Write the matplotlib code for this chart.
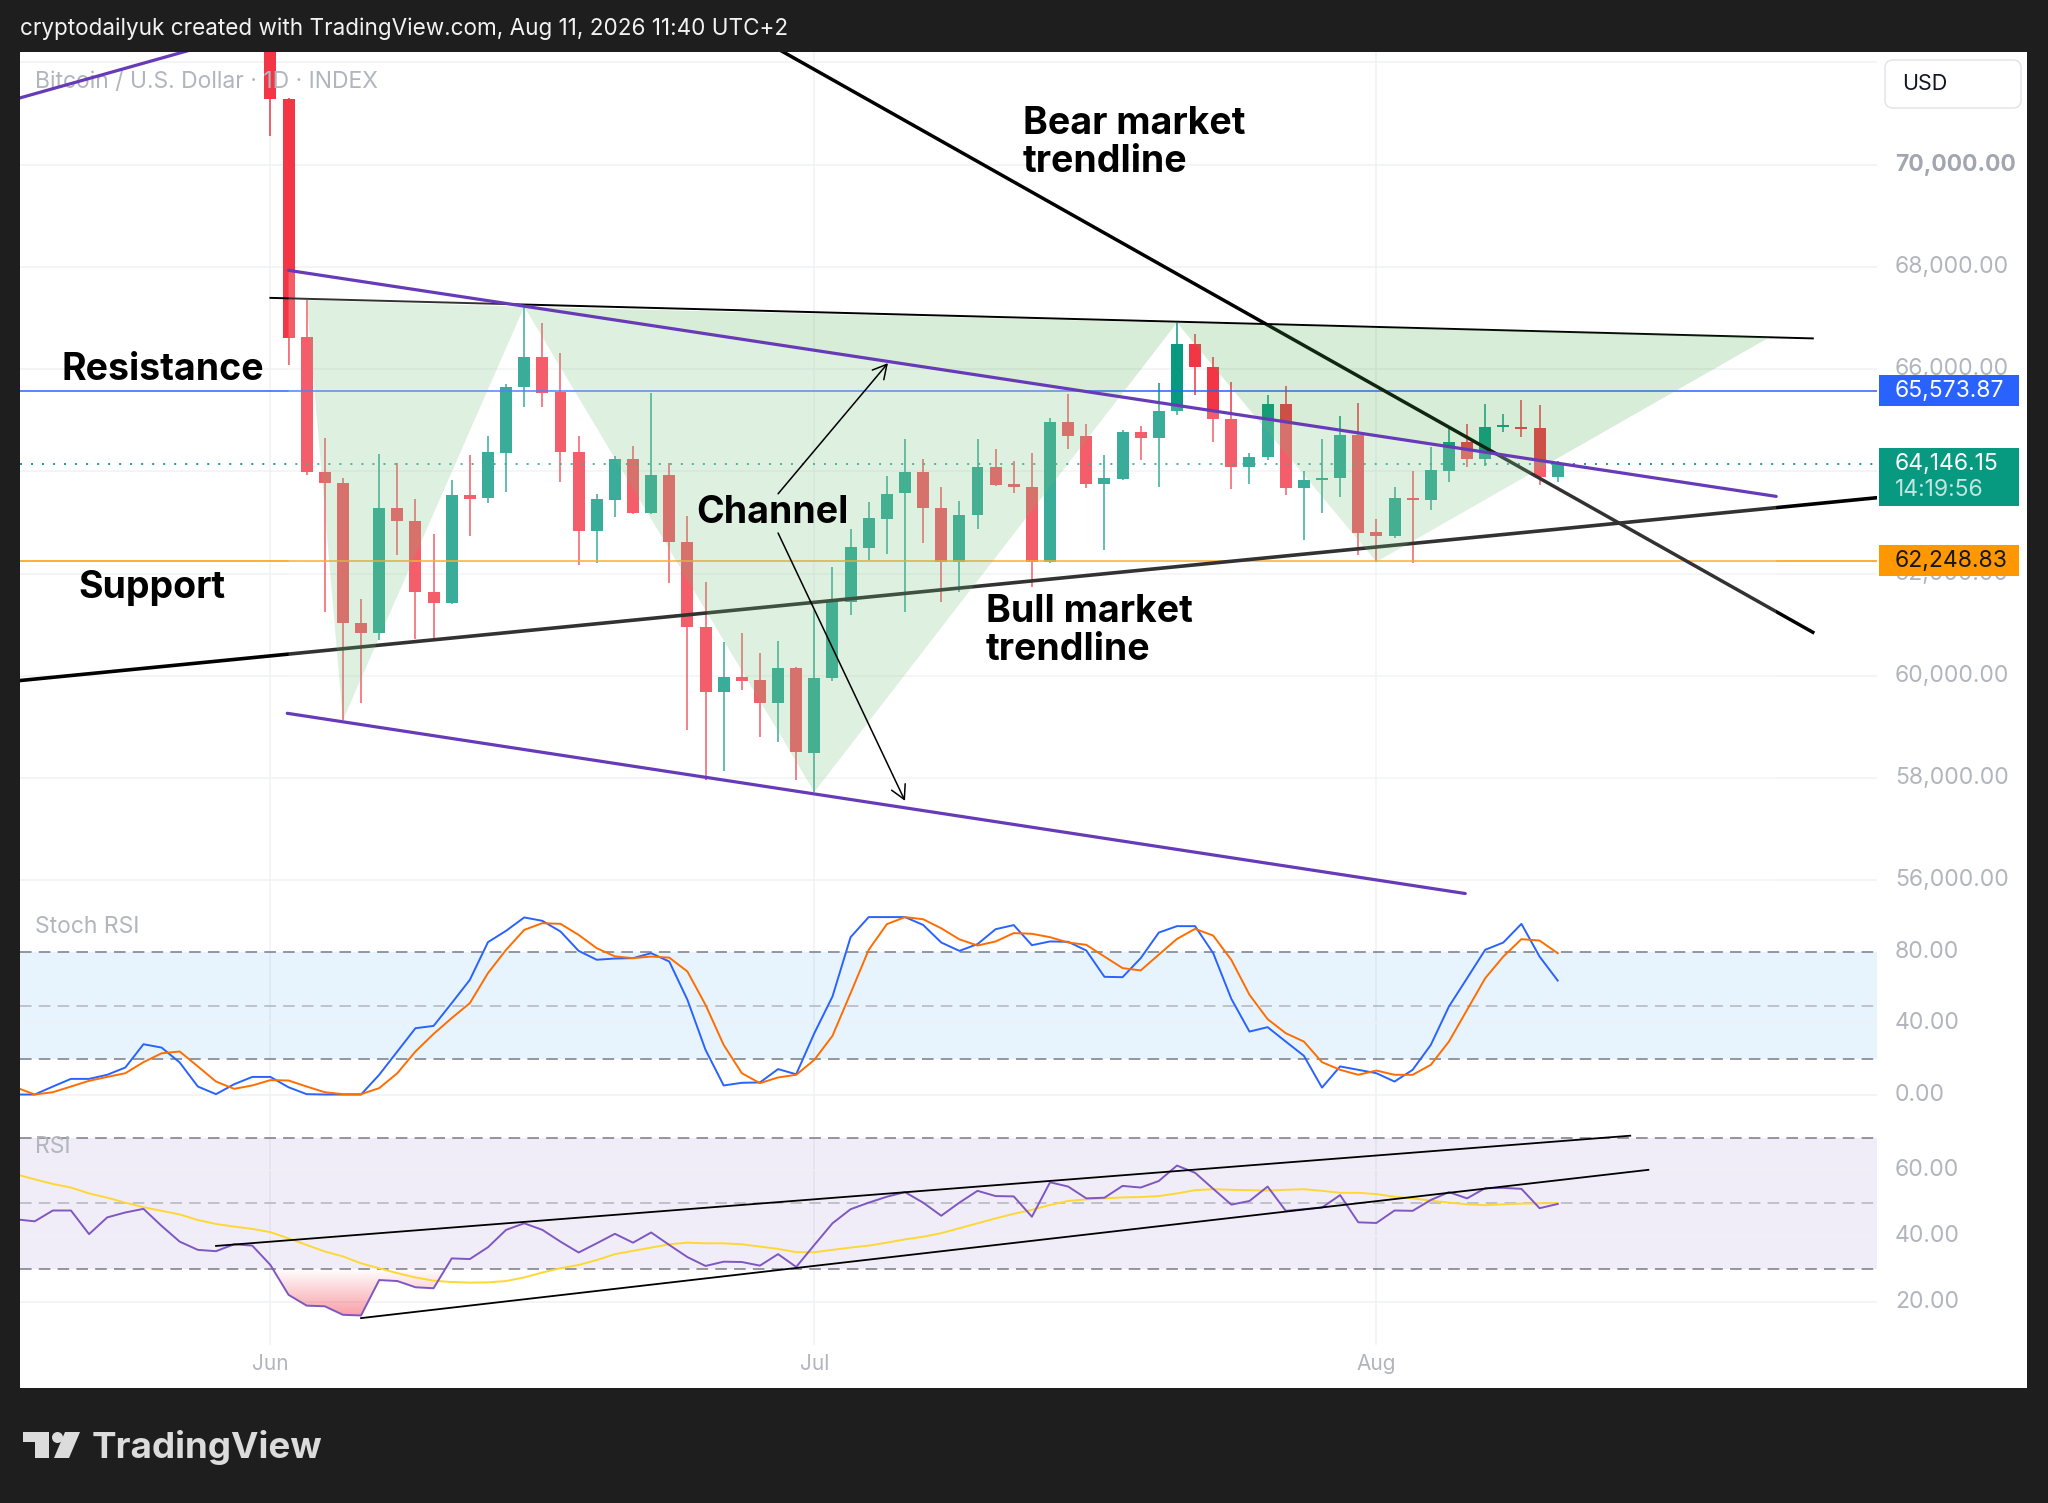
import numpy as np
import pandas as pd
import matplotlib
matplotlib.use("Agg")
import matplotlib.pyplot as plt
from matplotlib.patches import Polygon, Rectangle, FancyBboxPatch, Circle
from matplotlib.colors import LinearSegmentedColormap
from matplotlib.path import Path

plt.rcParams['font.family'] = ['Inter', 'DejaVu Sans']

# daily candles, Jun 1 - Aug 11 2026
dates = pd.date_range("2026-06-01", "2026-08-11", freq="D")
opens = [73900, 71280, 66632, 63990, 63775, 61023, 60839, 63286, 63031, 61642,
         61426, 63535, 63481, 64362, 65642, 66229, 65556, 64382, 62835, 63437,
         64243, 63188, 63926, 62620, 60957, 59686, 59980, 59914, 59458, 60143,
         58490, 59947, 61446, 62503, 63058, 63567, 63978, 63286, 62229, 63143,
         64088, 63743, 63697, 62229, 64969, 64689, 63750, 63841, 64761, 64656,
         65184, 66491, 66033, 65016, 64076, 64272, 65315, 63665, 63828, 63861,
         64709, 62804, 62732, 63469, 63436, 64010, 64577, 64233, 64870, 64871,
         64839, 63880]
highs = [74400, 71300, 67350, 64644, 63861, 61493, 64337, 64166, 63456, 62771,
         63828, 64317, 64689, 65706, 67219, 66894, 66307, 64689, 63548, 64290,
         64493, 65524, 64166, 63123, 61837, 60663, 60827, 60436, 60683, 60180,
         61284, 62131, 62881, 63404, 63907, 64624, 64233, 63684, 63424, 64624,
         64428, 64200, 64350, 65047, 65505, 64924, 64317, 64807, 64891, 65720,
         66906, 66685, 66241, 65740, 64362, 65491, 65667, 64010, 64624, 65080,
         65329, 63058, 63697, 64010, 64467, 64871, 64918, 65315, 65119, 65393,
         65296, 64200]
lows = [70560, 66078, 63930, 61250, 59131, 59458, 60697, 62360, 60710, 60710,
        61400, 62732, 63383, 63599, 65262, 65250, 63795, 62164, 62210, 63109,
        63170, 63170, 61806, 58947, 57969, 58137, 59731, 58804, 58706, 57969,
        57727, 59900, 61186, 62262, 62380, 61250, 62589, 61446, 61642, 62863,
        63720, 63567, 61740, 62200, 64428, 63665, 62459, 63830, 64219, 63697,
        65100, 65491, 64565, 63646, 63750, 64219, 63535, 62654, 63188, 63501,
        62360, 62229, 62700, 62197, 63241, 63795, 64088, 64102, 64773, 64663,
        63730, 63783]
closes = [71280, 66613, 63978, 63775, 61023, 60839, 63286, 63031, 61642, 61426,
          63535, 63450, 64370, 65654, 66229, 65536, 64370, 62835, 63456, 64243,
          63188, 63926, 62608, 60957, 59673, 59980, 59900, 59458, 60143, 58510,
          59947, 61479, 62522, 63077, 63555, 63978, 63273, 62229, 63143, 64088,
          63730, 63697, 62229, 64969, 64689, 63750, 63861, 64761, 64644, 65184,
          66491, 66033, 65016, 64076, 64272, 65315, 63665, 63828, 63861, 64709,
          62784, 62732, 63481, 63436, 64024, 64577, 64233, 64859, 64900, 64832,
          63880, 64146.15]

# indicators, May 18 - Aug 11 2026
ind_dates = pd.date_range("2026-05-18", "2026-08-11", freq="D")
stoch_k = [0, 0, 4.5, 8.8, 8.8, 11.1, 15.2, 28.3, 26.4, 18.0,
           4.5, 0.2, 5.8, 9.9,
           9.9, 4.1, 0.2, 0, 0, 0, 11.1, 24.2, 37.3, 38.6,
           51.4, 64.5, 85.7, 92.1, 99.6, 97.7, 91.7, 80.8, 75.8, 76.5,
           76.7, 79.5, 74.8, 53.3, 25.1, 5.1, 6.6, 6.8, 14.3, 11.4,
           34.5, 55.1, 88.5, 99.8, 99.8, 99.8, 95.4, 85.5, 80.8, 84.6,
           93.0, 95.3, 84.0, 86.1, 85.9, 81.0, 66.2, 66.0, 76.7, 91.1,
           94.7, 94.7, 79.5, 53.8, 35.4, 37.9, 29.8, 21.8, 3.9, 15.8,
           13.9, 12.0, 7.3, 13.9, 27.9, 49.5, 65.4, 81.4, 85.5, 96.0,
           77.6, 64.1]
stoch_d = [3.9, 0, 1.3, 4.5, 7.7, 9.9, 12.0, 18.2, 23.2, 24.2,
           15.8, 7.3, 3.2, 5.1,
           8.1, 7.9, 4.5, 1.3, 0.2, 0.2, 3.6, 12.0, 24.2, 34.1,
           43.0, 51.4, 68.3, 81.4, 92.6, 96.4, 96.0, 89.8, 82.3, 77.7,
           76.7, 77.6, 77.0, 69.2, 50.4, 27.9, 12.0, 6.4, 9.6, 11.1,
           19.5, 33.0, 57.0, 81.4, 95.8, 99.8, 98.6, 93.5, 87.3, 83.8,
           86.1, 90.8, 90.4, 88.5, 85.5, 84.2, 77.6, 71.1, 69.8, 78.7,
           87.5, 93.2, 89.4, 75.7, 56.1, 42.4, 34.5, 29.8, 18.2, 13.9,
           11.1, 13.5, 11.1, 11.1, 16.7, 29.8, 47.6, 65.4, 77.6, 87.4,
           86.6, 79.5]
rsi = [45.1, 44.5, 47.8, 47.8, 40.6, 45.7, 47.2, 48.3, 43.1, 38.3,
       35.8, 35.4, 37.5, 37.1,
       31.2, 22.1, 18.8, 18.6, 16.0, 15.8, 26.6, 26.3, 24.4, 24.1,
       33.2, 33.0, 36.6, 41.9, 43.9, 41.9, 38.3, 35.0, 37.8, 40.7,
       38.0, 41.1, 37.3, 33.6, 30.9, 32.2, 32.1, 31.0, 34.5, 30.6,
       37.3, 43.9, 48.2, 50.2, 52.0, 53.4, 50.2, 46.2, 50.2, 53.8,
       52.2, 52.1, 45.9, 56.4, 55.1, 51.5, 51.7, 55.3, 54.8, 56.8,
       61.5, 59.3, 54.4, 49.6, 50.7, 55.1, 47.7, 48.2, 48.7, 52.5,
       44.2, 44.0, 47.8, 47.7, 51.0, 53.4, 51.5, 54.6, 54.7, 54.4,
       48.5, 49.8]
rsi_ma = [58.8, 57.3, 55.9, 54.8, 53.0, 51.7, 50.2, 48.8, 47.7, 46.6,
          44.9, 43.7, 42.9, 42.2,
          41.2, 39.3, 37.3, 35.3, 33.8, 31.7, 30.2, 28.7, 27.4, 26.4,
          26.0, 25.8, 25.9, 26.3, 27.4, 28.9, 30.2, 31.2, 32.7, 34.5,
          35.5, 36.5, 37.5, 38.0, 37.8, 37.8, 37.5, 36.8, 36.1, 35.1,
          35.1, 35.8, 36.5, 37.1, 38.0, 39.0, 39.8, 40.9, 42.4, 43.9,
          45.4, 46.8, 48.0, 49.5, 50.7, 51.2, 51.5, 51.8, 51.9, 52.2,
          53.0, 54.0, 54.3, 54.1, 54.0, 53.9, 54.1, 54.3, 53.8, 53.2,
          53.2, 52.8, 52.0, 51.5, 50.8, 50.2, 49.7, 49.4, 49.7, 49.9,
          50.0, 50.1]

resistance = 65573.87
support = 62248.83
last_price = 64146.15
countdown = "14:19:56"

price_ticks = [56000, 58000, 60000, 62000, 64000, 66000, 68000, 70000, 72000]
price_labels = [56000, 58000, 60000, 62000, 66000, 68000, 70000]
stoch_ticks = [80, 40, 0]
rsi_ticks = [60, 40, 20]
month_dates = pd.to_datetime(["2026-06-01", "2026-07-01", "2026-08-01"])
month_labels = ["Jun", "Jul", "Aug"]

# drawings: x in days from Jun 1, y in price
hs_days = [2, 4, 14, 30, 50, 61, 82.7]
hs_prices = [67350, 59131, 67219, 57727, 66906, 62229, 66626]
neck_days, neck_prices = [0, 85.07], [67393, 66600]
bear_days, bear_prices = [20, 85.07], [73860, 60851]
bull_days, bull_prices = [-13.83, 88.6], [59906, 63483]
chan_up_days, chan_up_prices = [1.0, 83.05], [67931, 63509]
chan_lo_days, chan_lo_prices = [0.93, 65.9], [59266, 55740]
old_days, old_prices = [-14, -3], [71286, 72383]
arrows = [((28.0, 63560), (34.06, 66116)), ((28.0, 62793), (35.0, 57553))]
rsi_up_days, rsi_up_vals = [-3.0, 75.0], [37.0, 70.6]
rsi_lo_days, rsi_lo_vals = [5.0, 76.0], [15.0, 60.2]

# ---------- layout in pixels ----------
W, H = 2048, 1503
PL, PR = 20, 1877
XMIN, XMAX = -13.81, 88.61


def frame(l, t, r, b):
    return [l / W, 1 - b / H, (r - l) / W, (b - t) / H]


def axx(px):
    return (px - PL) / (PR - PL)


fig = plt.figure(figsize=(W / 100, H / 100), dpi=100, facecolor='#1e1e1e')

chrome = fig.add_axes([0, 0, 1, 1], zorder=-10)
chrome.set_xlim(0, W)
chrome.set_ylim(H, 0)
chrome.axis('off')
chrome.add_patch(Rectangle((20, 52), 2007, 1336, fc='white', ec='none'))
chrome.text(20, 29, "cryptodailyuk created with TradingView.com, Aug 11, 2026 11:40 UTC+2",
            color='#f2f2f2', fontsize=16.2, va='center', ha='left')
# TradingView logo
logo_c = '#dcdcdc'
chrome.add_patch(Polygon([(23, 1432), (49, 1432), (49, 1458), (34.5, 1458), (34.5, 1442), (23, 1442)],
                         fc=logo_c, ec='none'))
chrome.add_patch(Circle((57.5, 1437.5), 5.5, fc=logo_c, ec='none'))
chrome.add_patch(Polygon([(65, 1432), (80, 1432), (69, 1458), (54, 1458)], fc=logo_c, ec='none'))
chrome.text(92, 1458, "TradingView", color=logo_c, fontsize=26.5, fontweight='bold',
            ha='left', va='baseline')
# currency box
chrome.add_patch(FancyBboxPatch((1885, 60), 136, 48, boxstyle="round,pad=0,rounding_size=8",
                                fc='white', ec='#e0e3eb', lw=1))
chrome.text(1902, 84, "USD", fontsize=15.5, color='#131722', va='center', ha='left')


def pane(t, b):
    a = fig.add_axes(frame(PL, t, PR, b))
    a.set_facecolor('none')
    for s in a.spines.values():
        s.set_visible(False)
    a.set_xticks([])
    a.set_yticks([])
    a.set_xlim(XMIN, XMAX)
    return a


ax = pane(52, 897)
ax_st = pane(897, 1118)
ax_rsi = pane(1118, 1345)
MAIN_LO, MAIN_HI = 55672, 72203
ax.set_ylim(MAIN_LO, MAIN_HI)
ax_st.set_ylim(-13.2, 111.1)
ax_rsi.set_ylim(6.8, 76.0)

x = np.asarray((dates - dates[0]).days, dtype=float)
ind_x = np.asarray((ind_dates - dates[0]).days, dtype=float)
month_x = np.asarray((month_dates - dates[0]).days, dtype=float)

grid_c = '#eff1f4'
for a in (ax, ax_st, ax_rsi):
    for m in month_x:
        a.axvline(m, color=grid_c, lw=1.1, zorder=0)
for p in price_ticks:
    ax.axhline(p, color=grid_c, lw=1.1, zorder=0)

# ---------- candles ----------
o = np.array(opens, dtype=float)
h = np.array(highs, dtype=float)
l = np.array(lows, dtype=float)
c = np.array(closes, dtype=float)
up = c >= o
cols = np.where(up, '#089981', '#f23645')
ax.vlines(x, l, h, colors=cols, lw=1.1, zorder=2)
ax.bar(x, np.maximum(np.abs(c - o), 35), bottom=np.minimum(o, c), width=0.66,
       color=cols, linewidth=0, zorder=2.1)

# ---------- levels and trendlines ----------
ax.axhline(resistance, color='#2962ff', lw=1.1, zorder=3)
ax.axhline(support, color='#ff9800', lw=1.1, zorder=3)
ax.axhline(last_price, color='#089981', lw=1.3, ls=(0, (1.1, 5)), zorder=3)
ax.plot(bull_days, bull_prices, color='black', lw=2.6, zorder=3.2)
ax.plot(bear_days, bear_prices, color='black', lw=2.5, zorder=3.2)
ax.plot(neck_days, neck_prices, color='black', lw=1.4, zorder=3.2)

# head & shoulders style triangles
for i in (0, 2, 4):
    tri = list(zip(hs_days[i:i + 3], hs_prices[i:i + 3]))
    ax.add_patch(Polygon(tri, closed=True, fc=(0.298, 0.686, 0.314, 0.22), ec='none', zorder=4))

# channel background (very light)
slope_lo = (chan_lo_prices[1] - chan_lo_prices[0]) / (chan_lo_days[1] - chan_lo_days[0])
lo_at = [chan_lo_prices[0] + slope_lo * (d - chan_lo_days[0]) for d in chan_up_days]
ax.add_patch(Polygon([(chan_up_days[0], chan_up_prices[0]), (chan_up_days[1], chan_up_prices[1]),
                      (chan_up_days[1], lo_at[1]), (chan_up_days[0], lo_at[0])],
                     closed=True, fc=(1, 1, 1, 0.2), ec='none', zorder=5))

purple = '#673ab7'
ax.plot(chan_up_days, chan_up_prices, color=purple, lw=2.3, zorder=6, solid_capstyle='round')
ax.plot(chan_lo_days, chan_lo_prices, color=purple, lw=2.3, zorder=6, solid_capstyle='round')
ax.plot(old_days, old_prices, color=purple, lw=2.3, zorder=6)

for start, end in arrows:
    ax.annotate('', xy=end, xytext=start, zorder=7,
                arrowprops=dict(arrowstyle='->,head_length=0.55,head_width=0.3', color='black',
                                lw=1.1, shrinkA=0, shrinkB=0, mutation_scale=18))

# ---------- annotation texts ----------
tkw = dict(fontsize=27, fontweight='bold', color='black', ha='left', va='baseline', zorder=8)
ax.text(-11.52, 65786, "Resistance", **tkw)
ax.text(-10.61, 61531, "Support", **tkw)
ax.text(23.47, 62983, "Channel", **tkw)
ax.text(39.47, 61058, "Bull market", **tkw)
ax.text(39.47, 60318, "trendline", **tkw)
ax.text(41.49, 70599, "Bear market", **tkw)
ax.text(41.49, 69859, "trendline", **tkw)

ax.text(axx(34.8), 1 - (81.7 - 52) / 845, "Bitcoin / U.S. Dollar \u00b7 1D \u00b7 INDEX",
        transform=ax.transAxes, fontsize=16.5, color='#b2b5be', ha='left', va='center', zorder=5.5)

# ---------- price scale ----------
lab_c = '#b2b5be'


def scale_label(a, v, s, **kw):
    kw.setdefault('color', lab_c)
    a.text(axx(1895), v, s, transform=a.get_yaxis_transform(), ha='left', va='center',
           fontsize=16.5, clip_on=False, zorder=10, **kw)


for p in price_labels:
    if p == 70000:
        scale_label(ax, p, f"{p:,.2f}", fontweight='bold', color='#a3a6af')
    else:
        scale_label(ax, p, f"{p:,.2f}")

px_unit = (MAIN_HI - MAIN_LO) / 845.0
tag_x0, tag_w = axx(1879), axx(2019) - axx(1879)


def price_tag(v, text, face, tcol, above=15.5, below=15.5):
    ax.add_patch(Rectangle((tag_x0, v - below * px_unit), tag_w, (above + below) * px_unit,
                           transform=ax.get_yaxis_transform(), fc=face, ec='none',
                           clip_on=False, zorder=11))
    ax.text(axx(1895), v, text, transform=ax.get_yaxis_transform(), ha='left', va='center',
            fontsize=16.5, color=tcol, clip_on=False, zorder=12)


price_tag(resistance, f"{resistance:,.2f}", '#2962ff', 'white')
price_tag(last_price, f"{last_price:,.2f}", '#089981', 'white', above=15.4, below=42.1)
ax.text(axx(1895), last_price - 25.7 * px_unit, countdown, transform=ax.get_yaxis_transform(),
        ha='left', va='center', fontsize=16.5, color='#bfe6df', clip_on=False, zorder=12)
price_tag(support, f"{support:,.2f}", '#ff9800', '#131722')

# ---------- Stoch RSI ----------
dash = (0, (7.6, 4.7))
ax_st.axhspan(20, 80, color='#2196f3', alpha=0.1, lw=0, zorder=0)
for v in (0, 40):
    ax_st.axhline(v, color=grid_c, lw=1.1, zorder=0.5)
for v, col in ((80, '#787b86'), (50, '#b2b5be'), (20, '#787b86')):
    ax_st.axhline(v, color=col, lw=1.1, ls=dash, zorder=1)
ax_st.plot(ind_x, stoch_k, color='#2962ff', lw=1.4, zorder=3)
ax_st.plot(ind_x, stoch_d, color='#ff6d00', lw=1.4, zorder=3.1)
for v in stoch_ticks:
    scale_label(ax_st, v, f"{v:.2f}")
ax_st.text(axx(34.7), 1 - (926.7 - 897) / 221, "Stoch RSI", transform=ax_st.transAxes,
           fontsize=16.5, color=lab_c, ha='left', va='center')

# ---------- RSI ----------
ax_rsi.axhspan(30, 70, color='#7e57c2', alpha=0.1, lw=0, zorder=0)
for v in (20, 40, 60):
    ax_rsi.axhline(v, color=grid_c, lw=1.1, zorder=0.5)
for v, col in ((70, '#787b86'), (50, '#b2b5be'), (30, '#787b86')):
    ax_rsi.axhline(v, color=col, lw=1.1, ls=dash, zorder=1)

rsi_arr = np.array(rsi)
fb = ax_rsi.fill_between(ind_x, rsi_arr, 30, where=rsi_arr < 30, interpolate=True,
                         facecolor='none', edgecolor='none')
clip = Path.make_compound_path(*fb.get_paths())
os_cmap = LinearSegmentedColormap.from_list('os', [(0.95, 0.21, 0.27, 0.0), (0.95, 0.21, 0.27, 1.0)])
grad = np.linspace(0, 1, 256).reshape(-1, 1)
im = ax_rsi.imshow(grad, extent=[XMIN, XMAX, 0, 30], origin='upper', cmap=os_cmap,
                   aspect='auto', zorder=1.5, interpolation='bilinear')
im.set_clip_path(clip, transform=ax_rsi.transData)
ax_rsi.set_xlim(XMIN, XMAX)
ax_rsi.set_ylim(6.8, 76.0)

ax_rsi.plot(ind_x, rsi_ma, color='#fdd835', lw=1.4, zorder=3)
ax_rsi.plot(ind_x, rsi, color='#7e57c2', lw=1.4, zorder=3.1)
ax_rsi.plot(rsi_up_days, rsi_up_vals, color='black', lw=1.3, zorder=4)
ax_rsi.plot(rsi_lo_days, rsi_lo_vals, color='black', lw=1.3, zorder=4)
for v in rsi_ticks:
    scale_label(ax_rsi, v, f"{v:.2f}")
ax_rsi.text(axx(34.7), 1 - (1146.7 - 1118) / 227, "RSI", transform=ax_rsi.transAxes,
            fontsize=16.5, color=lab_c, ha='left', va='center')

# ---------- time scale ----------
for m, lab in zip(month_x, month_labels):
    ax_rsi.text(m, -(1364 - 1345) / 227, lab, transform=ax_rsi.get_xaxis_transform(),
                ha='center', va='center', fontsize=15, color=lab_c, clip_on=False)

fig.savefig("out.png", dpi=100, facecolor=fig.get_facecolor())
